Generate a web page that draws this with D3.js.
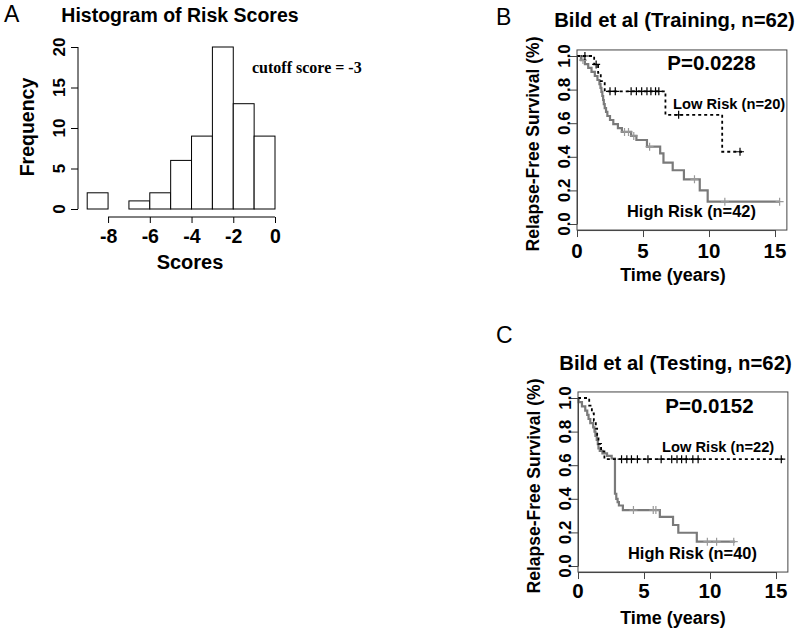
<!DOCTYPE html>
<html><head><meta charset="utf-8">
<script src="https://cdn.jsdelivr.net/npm/d3@7/dist/d3.min.js"></script>
<style>
body{margin:0;background:#fff;}
svg{display:block;}
text{font-family:"Liberation Sans",Arial,sans-serif;}
text.serif{font-family:"Liberation Serif","Times New Roman",serif;}
</style></head><body>
<svg id="c" width="800" height="628"></svg>
<script>
// ---------- DATA ----------
const histBinStarts = [-9,-8,-7,-6,-5,-4,-3,-2,-1];
const histCounts    = [2,0,1,2,6,9,20,13,9];
const histXTicks = [-8,-6,-4,-2,0];
const histYTicks = [0,5,10,15,20];

const survXTicks = [0,5,10,15];
const survYTicks = [0.0,0.2,0.4,0.6,0.8,1.0];

// Panel B (Training)
const bLowTimes = [0,1.3,1.6,1.8,2.1,6.7,11.0];
const bLowSurv  = [1,0.95,0.90,0.85,0.79,0.65,0.43];
const bLowEnd   = 12.5;
const bLowCens  = [0.6,1.45,2.5,2.9,4.1,4.5,4.9,5.3,5.6,5.95,6.2,7.7,12.35];
const bHighTimes = [0,0.3,0.6,0.85,1.1,1.35,1.55,1.7,1.78,1.85,1.92,1.98,2.03,2.1,2.2,2.3,2.5,2.75,3.1,3.4,4.1,4.5,5.3,6.3,6.55,7.25,8.1,9.3,9.9];
const bHighSurv  = [1,.976,.952,.929,.905,.881,.857,.833,.810,.786,.762,.738,.714,.690,.667,.643,.619,.595,.571,.548,.524,.50,.46,.42,.365,.32,.266,.20,.133];
const bHighEnd   = 15.35;
const bHighCens  = [0.45,3.6,3.9,4.3,5.5,8.9,11.2,15.35];

// Panel C (Testing)
const cLowTimes = [0,0.85,1.05,1.2,1.35,1.45,1.55,1.75,2.0];
const cLowSurv  = [1,.955,.909,.864,.818,.773,.727,.682,.636];
const cLowEnd   = 15.5;
const cLowCens  = [3.3,3.7,4.05,4.5,5.3,6.3,7.1,7.5,7.85,8.2,8.7,9.1,15.4];
const cHighTimes = [0,0.05,0.3,0.55,0.7,0.8,0.93,1.15,1.25,1.32,1.42,1.5,1.55,1.65,1.85,2.2,2.55,2.8,2.9,3.0,3.1,3.4,6.2,7.2,7.6,9.0];
const cHighSurv  = [1,.975,.95,.925,.9,.875,.85,.825,.8,.775,.75,.725,.70,.685,.67,.655,.64,.43,.40,.38,.36,.333,.293,.244,.198,.145];
const cHighEnd   = 11.9;
const cHighCens  = [4.2,5.7,5.9,9.8,10.5,11.8];

// ---------- DRAW ----------
const svg = d3.select("#c");
const BOLD = "bold";

// Panel A: histogram
(function(){
  const x = d3.scaleLinear().domain([-9,0]).range([87.2,275]);
  const y = d3.scaleLinear().domain([0,20]).range([209,47]);
  const g = svg.append("g");
  g.selectAll("rect").data(histCounts.map((c,i)=>({x0:histBinStarts[i],c})))
    .join("rect")
    .attr("x",d=>x(d.x0)).attr("width",d=>x(d.x0+1)-x(d.x0))
    .attr("y",d=>y(d.c)).attr("height",d=>y(0)-y(d.c))
    .attr("fill","#fff").attr("stroke","#000").attr("stroke-width",1);
  // x axis
  const xa = g.append("g").attr("transform","translate(0,217)")
    .call(d3.axisBottom(x).tickValues(histXTicks).tickSize(6).tickSizeOuter(0).tickPadding(6)
      .tickFormat(d=>d===0?"0":String(d).replace("−","-")));
  xa.select(".domain").attr("d",`M${x(-8)},0H${x(0)}`).attr("stroke","#000");
  xa.selectAll("text").attr("font-size",19.5).attr("font-weight",BOLD).attr("fill","#000")
    .attr("dy",null).attr("y",26);
  // y axis
  const ya = g.append("g").attr("transform","translate(78,0)")
    .call(d3.axisLeft(y).tickValues(histYTicks).tickSize(7).tickSizeOuter(0));
  ya.select(".domain").attr("d",`M0,${y(0)}V${y(20)}`).attr("stroke","#000");
  ya.selectAll("text").remove();
  g.selectAll(".hyl").data(histYTicks).join("text")
    .attr("transform",d=>`translate(65,${y(d)}) rotate(-90)`)
    .attr("text-anchor","middle").attr("font-size",17).attr("font-weight",BOLD).text(d=>d);
  g.append("text").attr("transform","translate(34,127) rotate(-90)").attr("text-anchor","middle")
    .attr("font-size",19.5).attr("font-weight",BOLD).text("Frequency");
  g.append("text").attr("x",190).attr("y",269).attr("text-anchor","middle")
    .attr("font-size",20).attr("font-weight",BOLD).text("Scores");
  g.append("text").attr("x",180).attr("y",22).attr("text-anchor","middle")
    .attr("font-size",19.5).attr("font-weight",BOLD).text("Histogram of Risk Scores");
  g.append("text").attr("class","serif").attr("x",252).attr("y",73)
    .attr("font-size",16).attr("font-weight",BOLD).text("cutoff score = -3");
  g.append("text").attr("x",4).attr("y",22).attr("font-size",23).text("A");
})();

function stepAt(times,surv,t){
  let s=surv[0];
  for(let i=0;i<times.length;i++){ if(times[i]<=t) s=surv[i]; }
  return s;
}

function survPanel(o){
  const x = d3.scaleLinear().domain([0,15]).range([o.x0,o.x0+198]);
  const y = d3.scaleLinear().domain([0,1]).range([o.y0,o.y0-168]);
  const g = svg.append("g");
  const boxL=x(0), boxR=x(15.9), boxT=y(1.036), boxB=y(-0.036);
  const line = d3.line().x(d=>x(d.t)).y(d=>y(d.s)).curve(d3.curveStepAfter);
  function curve(times,surv,end,cens,style){
    const pts = times.map((t,i)=>({t,s:surv[i]}));
    pts.push({t:end,s:surv[surv.length-1]});
    g.append("path").attr("d",line(pts)).attr("fill","none")
      .attr("stroke",style.color).attr("stroke-width",style.w)
      .attr("stroke-dasharray",style.dash||null);
    g.selectAll(null).data(cens).join("path")
      .attr("d",t=>{const cx=x(t),cy=y(stepAt(times,surv,t));return `M${cx-4},${cy}H${cx+4}M${cx},${cy-4}V${cy+4}`;})
      .attr("stroke",style.mark).attr("stroke-width",1.2).attr("fill","none");
  }
  curve(o.hT,o.hS,o.hE,o.hC,{color:"#7a7a7a",w:2.2,mark:"#9a9a9a"});
  curve(o.lT,o.lS,o.lE,o.lC,{color:"#000",w:1.8,dash:"3,3",mark:"#000"});
  g.append("rect").attr("x",boxL).attr("y",boxT).attr("width",boxR-boxL).attr("height",boxB-boxT)
    .attr("fill","none").attr("stroke","#444").attr("stroke-width",1);
  const xa = g.append("g").attr("transform",`translate(0,${boxB})`)
    .call(d3.axisBottom(x).tickValues(survXTicks).tickSize(7).tickSizeOuter(0));
  xa.select(".domain").attr("stroke","#444");
  xa.selectAll("line").attr("stroke","#444");
  xa.selectAll("text").remove();
  g.selectAll(null).data(survXTicks).join("text")
    .attr("x",d=>x(d)).attr("y",o.xlabY).attr("text-anchor","middle")
    .attr("font-size",20.5).attr("font-weight",BOLD).text(d=>d);
  const ya = g.append("g").attr("transform",`translate(${boxL},0)`)
    .call(d3.axisLeft(y).tickValues(survYTicks).tickSize(7).tickSizeOuter(0));
  ya.select(".domain").attr("stroke","#444");
  ya.selectAll("line").attr("stroke","#444");
  ya.selectAll("text").remove();
  g.selectAll(null).data(survYTicks).join("text")
    .attr("transform",d=>`translate(${boxL-7},${y(d)}) rotate(-90)`)
    .attr("text-anchor","middle").attr("font-size",17).attr("font-weight",BOLD).text(d=>d.toFixed(1));
  g.append("text").attr("transform",`translate(${boxL-38},${o.y0-80}) rotate(-90)`).attr("text-anchor","middle")
    .attr("font-size",17.5).attr("font-weight",BOLD).text("Relapse-Free Survival (%)");
  g.append("text").attr("x",673).attr("y",o.timeY).attr("text-anchor","middle")
    .attr("font-size",18).attr("font-weight",BOLD).text("Time (years)");
  g.append("text").attr("x",o.titleX).attr("y",o.titleY).attr("text-anchor","middle")
    .attr("font-size",20.3).attr("font-weight",BOLD).text(o.title);
  g.append("text").attr("x",o.pX).attr("y",o.pY).attr("text-anchor","middle")
    .attr("font-size",20.5).attr("font-weight",BOLD).text(o.p);
  g.append("text").attr("x",o.lowX).attr("y",o.lowY)
    .attr("font-size",14.7).attr("font-weight",BOLD).text(o.low);
  g.append("text").attr("x",o.highX).attr("y",o.highY)
    .attr("font-size",16.4).attr("font-weight",BOLD).text(o.high);
  g.append("text").attr("x",496).attr("y",o.letterY).attr("font-size",23).text(o.letter);
}

survPanel({x0:577,y0:224,letter:"B",letterY:25,title:"Bild et al (Training, n=62)",titleX:674.5,titleY:27,
  p:"P=0.0228",pX:711.5,pY:70,low:"Low Risk (n=20)",lowX:673,lowY:108.5,high:"High Risk (n=42)",highX:627,highY:217,
  xlabY:258,timeY:281,
  lT:bLowTimes,lS:bLowSurv,lE:bLowEnd,lC:bLowCens,hT:bHighTimes,hS:bHighSurv,hE:bHighEnd,hC:bHighCens});
survPanel({x0:578,y0:566,letter:"C",letterY:343,title:"Bild et al (Testing, n=62)",titleX:675.5,titleY:370,
  p:"P=0.0152",pX:709.5,pY:413,low:"Low Risk (n=22)",lowX:662,lowY:451.7,high:"High Risk (n=40)",highX:628,highY:559.3,
  xlabY:598.3,timeY:624,
  lT:cLowTimes,lS:cLowSurv,lE:cLowEnd,lC:cLowCens,hT:cHighTimes,hS:cHighSurv,hE:cHighEnd,hC:cHighCens});
</script>
</body></html>
